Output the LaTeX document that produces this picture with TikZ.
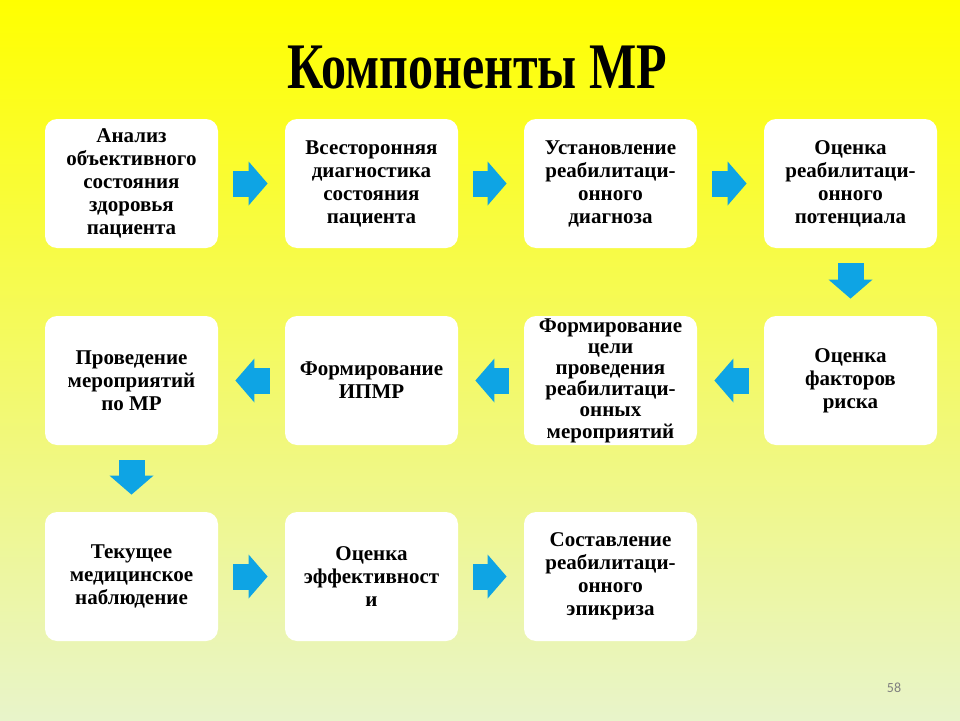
\documentclass[tikz,border=0pt]{standalone}
\usepackage{fontspec}
\setmainfont{Liberation Serif}
\newfontfamily\numfont{Carlito}
\usetikzlibrary{arrows.meta}
\definecolor{arrowblue}{RGB}{14,164,228}
\definecolor{bgtop}{RGB}{255,255,0}
\definecolor{bgmid}{RGB}{246,248,96}
\definecolor{bgbot}{RGB}{232,244,202}
\begin{document}
\begin{tikzpicture}[x=0.5pt,y=0.5pt,
  box/.style={fill=white,rounded corners=6pt,minimum width=86.5pt,minimum height=64.5pt,
    inner sep=0pt,align=center,font=\bfseries\fontsize{10.5}{11.5}\selectfont},
  arr/.style={arrowblue,line width=13pt,-{Triangle[length=9.5pt,width=22pt,line width=0pt]},
    shorten <=7.5pt,shorten >=8.5pt}]
\shade[top color=bgtop,middle color=bgmid,bottom color=bgbot] (0,0) rectangle (960,720);
\node[anchor=base,font=\bfseries\fontsize{32.5}{36}\selectfont] (title) at (477.5,632)
  {\scalebox{0.77}[1]{Компоненты МР}};
% row 1
\node[box] (a1) at (131.5,536.5) {Анализ\\объективного\\состояния\\здоровья\\пациента};
\node[box] (a2) at (371.5,536.5) {Всесторонняя\\диагностика\\состояния\\пациента};
\node[box] (a3) at (610.5,536.5) {Установление\\реабилитаци-\\онного\\диагноза};
\node[box] (a4) at (850.5,536.5) {Оценка\\реабилитаци-\\онного\\потенциала};
% row 2
\node[box] (b4) at (850.5,339.5) {Оценка\\факторов\\риска};
\node[box,font=\bfseries\fontsize{10.5}{10.6}\selectfont] (b3) at (610.5,339.5)
  {Формирование\\цели\\проведения\\реабилитаци-\\онных\\мероприятий};
\node[box] (b2) at (371.5,339.5) {Формирование\\ИПМР};
\node[box] (b1) at (131.5,339.5) {Проведение\\мероприятий\\по МР};
% row 3
\node[box] (c1) at (131.5,143.5) {Текущее\\медицинское\\наблюдение};
\node[box] (c2) at (371.5,143.5) {Оценка\\эффективност\\и};
\node[box] (c3) at (610.5,143.5) {Составление\\реабилитаци-\\онного\\эпикриза};
% arrows
\draw[arr] (a1) -- (a2);
\draw[arr] (a2) -- (a3);
\draw[arr] (a3) -- (a4);
\draw[arr] (a4) -- (b4);
\draw[arr] (b4) -- (b3);
\draw[arr] (b3) -- (b2);
\draw[arr] (b2) -- (b1);
\draw[arr] (b1) -- (c1);
\draw[arr] (c1) -- (c2);
\draw[arr] (c2) -- (c3);
\node[font=\numfont\fontsize{7}{8}\selectfont,text=gray] (page) at (894,32) {58};
\end{tikzpicture}
\end{document}
